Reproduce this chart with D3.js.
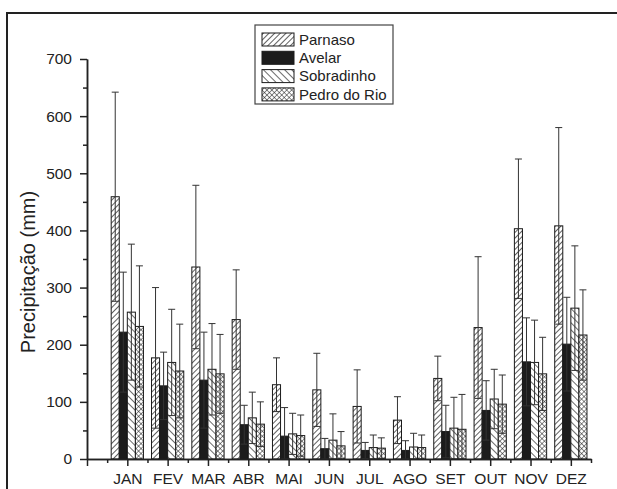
<!DOCTYPE html>
<html>
<head>
<meta charset="utf-8">
<script src="https://cdn.jsdelivr.net/npm/d3@7"></script>
<style>
  body { margin: 0; background: #fff; }
  text { font-family: "Liberation Sans", Arial, sans-serif; fill: #222; }
</style>
</head>
<body>
<svg id="chart" width="617" height="489"></svg>
<script>
const months = ["JAN", "FEV", "MAR", "ABR", "MAI", "JUN", "JUL", "AGO", "SET", "OUT", "NOV", "DEZ"];
const stations = ["Parnaso", "Avelar", "Sobradinho", "Pedro do Rio"];

// monthly mean and standard deviation (mm)
const parnaso = [459, 177, 336, 244, 130, 121, 92, 68, 141, 230, 403, 408];
const parnasoSd = [183, 123, 143, 87, 47, 64, 64, 41, 39, 124, 122, 172];
const avelar = [222, 128, 138, 60, 40, 18, 15, 15, 48, 85, 170, 201];
const avelarSd = [105, 59, 84, 34, 50, 18, 14, 17, 46, 52, 77, 82];
const sobradinho = [257, 169, 157, 72, 44, 33, 20, 21, 54, 105, 169, 264];
const sobradinhoSd = [119, 93, 80, 45, 36, 46, 22, 24, 54, 52, 74, 109];
const pedroDoRio = [232, 154, 149, 61, 41, 23, 19, 20, 52, 96, 149, 217];
const pedroDoRioSd = [106, 82, 69, 39, 36, 25, 18, 22, 61, 51, 64, 79];

const yTicks = [0, 100, 200, 300, 400, 500, 600, 700];

const series = [
  { name: stations[0], mean: parnaso, sd: parnasoSd, fill: "url(#hatch-fwd)" },
  { name: stations[1], mean: avelar, sd: avelarSd, fill: "#1c1c1c" },
  { name: stations[2], mean: sobradinho, sd: sobradinhoSd, fill: "url(#hatch-back)" },
  { name: stations[3], mean: pedroDoRio, sd: pedroDoRioSd, fill: "url(#hatch-cross)" }
];

const svg = d3.select("#chart");

// hatch patterns
const defs = svg.append("defs");
function pattern(id, size, angle, cross, width) {
  const p = defs.append("pattern")
    .attr("id", id)
    .attr("patternUnits", "userSpaceOnUse")
    .attr("width", size).attr("height", size)
    .attr("patternTransform", `rotate(${angle})`);
  p.append("rect").attr("width", size).attr("height", size).attr("fill", "#fff");
  p.append("line").attr("x1", 0).attr("x2", 0).attr("y1", 0).attr("y2", size)
    .attr("stroke", "#1a1a1a").attr("stroke-width", width);
  if (cross) {
    p.append("line").attr("x1", 0).attr("x2", size).attr("y1", 0).attr("y2", 0)
      .attr("stroke", "#1a1a1a").attr("stroke-width", width);
  }
}
pattern("hatch-fwd", 4, 45, false, 1.4);
pattern("hatch-back", 5, -45, false, 1.3);
pattern("hatch-cross", 3.5, 45, true, 1);

// outer frame
svg.append("rect")
  .attr("x", 7).attr("y", 13)
  .attr("width", 640).attr("height", 500)
  .attr("fill", "none")
  .attr("stroke", "#222")
  .attr("stroke-width", 2);

const x = d3.scaleLinear().domain([0, 12.5]).range([87, 591]);
const y = d3.scaleLinear().domain([0, 700]).range([459, 59]);
const step = x(1) - x(0);
const inner = d3.scaleBand()
  .domain(stations)
  .range([-0.4 * step, 0.4 * step]);

// bars
const groups = svg.selectAll(".series")
  .data(series)
  .enter()
  .append("g")
  .attr("class", "series");

groups.selectAll("rect")
  .data((s) => s.mean.map((v, i) => ({ name: s.name, i: i, v: v, fill: s.fill })))
  .enter()
  .append("rect")
  .attr("x", (d) => x(d.i + 1) + inner(d.name))
  .attr("y", (d) => y(d.v))
  .attr("width", inner.bandwidth())
  .attr("height", (d) => y(0) - y(d.v))
  .attr("fill", (d) => d.fill)
  .attr("stroke", "#1a1a1a")
  .attr("stroke-width", 1);

// error bars
const cap = 3.5;
const err = groups.selectAll(".err")
  .data((s) => s.mean.map((v, i) => ({ name: s.name, i: i, v: v, sd: s.sd[i] })))
  .enter()
  .append("g")
  .attr("class", "err")
  .attr("stroke", "#333")
  .attr("stroke-width", 1);

const cx = (d) => x(d.i + 1) + inner(d.name) + inner.bandwidth() / 2;
err.append("line")
  .attr("x1", cx).attr("x2", cx)
  .attr("y1", (d) => y(Math.max(0, d.v - d.sd)))
  .attr("y2", (d) => y(d.v + d.sd));
err.append("line")
  .attr("x1", (d) => cx(d) - cap).attr("x2", (d) => cx(d) + cap)
  .attr("y1", (d) => y(d.v + d.sd)).attr("y2", (d) => y(d.v + d.sd));
err.append("line")
  .attr("x1", (d) => cx(d) - cap).attr("x2", (d) => cx(d) + cap)
  .attr("y1", (d) => y(Math.max(0, d.v - d.sd))).attr("y2", (d) => y(Math.max(0, d.v - d.sd)));

// axes
const xMajor = d3.axisBottom(x)
  .tickValues(d3.range(0, 13))
  .tickFormat((d) => (d === 0 ? "" : months[d - 1]))
  .tickSize(7)
  .tickSizeOuter(0)
  .tickPadding(7);
const xMinor = d3.axisBottom(x)
  .tickValues(d3.range(0.5, 12.6, 1))
  .tickFormat("")
  .tickSize(4)
  .tickSizeOuter(0);

svg.append("g")
  .attr("transform", `translate(0,${y(0)})`)
  .call(xMinor);
svg.append("g")
  .attr("transform", `translate(0,${y(0)})`)
  .call(xMajor);

const yMajor = d3.axisLeft(y)
  .tickValues(yTicks)
  .tickSize(7)
  .tickSizeOuter(0)
  .tickPadding(8);
const yMinor = d3.axisLeft(y)
  .tickValues(yTicks.slice(0, -1).map((d) => d + 50))
  .tickFormat("")
  .tickSize(4)
  .tickSizeOuter(0);

svg.append("g").attr("transform", `translate(${x(0)},0)`).call(yMinor);
svg.append("g").attr("transform", `translate(${x(0)},0)`).call(yMajor);

svg.selectAll(".domain, .tick line")
  .attr("stroke", "#222")
  .attr("stroke-width", 1.5);
svg.selectAll(".tick text")
  .attr("font-size", 15.5)
  .style("font-family", "'Liberation Sans', Arial, sans-serif")
  .attr("fill", "#222");

// y title
svg.append("text")
  .attr("transform", "translate(35,272) rotate(-90)")
  .attr("text-anchor", "middle")
  .attr("font-size", 20)
  .text("Precipitação (mm)");

// legend
const legend = svg.append("g").attr("transform", "translate(255,25)");
legend.append("rect")
  .attr("width", 138).attr("height", 79)
  .attr("fill", "#fff")
  .attr("stroke", "#444")
  .attr("stroke-width", 1.2);

const item = legend.selectAll(".legend")
  .data(series)
  .enter()
  .append("g")
  .attr("class", "legend")
  .attr("transform", (d, i) => `translate(7,${14.5 + i * 18.3})`);

item.append("rect")
  .attr("x", 0).attr("y", -6.5)
  .attr("width", 32).attr("height", 13)
  .attr("fill", (d) => d.fill)
  .attr("stroke", "#1a1a1a")
  .attr("stroke-width", 1);

item.append("text")
  .attr("x", 37)
  .attr("dy", "0.35em")
  .attr("font-size", 15)
  .text((d) => d.name);
</script>
</body>
</html>
